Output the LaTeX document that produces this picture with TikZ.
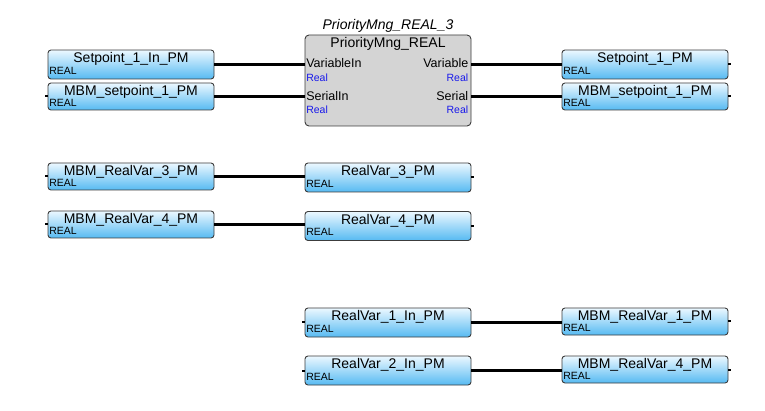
\documentclass[tikz,border=0pt]{standalone}
\usepackage{fontspec}
\setmainfont{Liberation Sans}
\usepackage{tikz}
\definecolor{varTop}{RGB}{236,248,255}
\definecolor{varBot}{RGB}{86,186,242}
\definecolor{fbFill}{RGB}{212,212,212}
\definecolor{edge}{RGB}{60,60,60}
\definecolor{typeBlue}{RGB}{25,25,235}

\begin{document}
\begin{tikzpicture}[x=1pt,y=-1pt,
    var/.style={draw=edge,line width=0.9pt,rounded corners=3pt,top color=varTop,bottom color=varBot,
      minimum width=166pt,minimum height=29pt,inner sep=0pt},
    mbm/.style={var,minimum height=27pt},
    fb/.style={draw=edge,line width=0.9pt,rounded corners=4pt,fill=fbFill,
      minimum width=166pt,minimum height=91pt,inner sep=0pt},
    vname/.style={anchor=base,inner sep=0pt,font=\fontsize{14}{16}\selectfont},
    vtype/.style={anchor=base west,inner sep=0pt,font=\fontsize{10.5}{12}\selectfont},
    pinl/.style={inner sep=0pt,font=\fontsize{12.5}{14}\selectfont},
    ptype/.style={inner sep=0pt,text=typeBlue,font=\fontsize{10.5}{12}\selectfont},
    wire/.style={line width=2.6pt}, stub/.style={line width=2pt}]
    \useasboundingbox (0,0) rectangle (765,411);

    % Function block
    \node[fb] (PM) at (388,80.5) {};
    \node[vname,font=\fontsize{14}{16}\selectfont\itshape] (PMi) at ([yshift=5pt]PM.north) {PriorityMng\_REAL\_3};
    \node[vname] (PMn) at ([yshift=-13pt]PM.north) {PriorityMng\_REAL};
    \node[pinl,anchor=base west] (PMa) at ([xshift=1.5pt,yshift=-33pt]PM.north west) {VariableIn};
    \node[ptype,anchor=base west] (PMb) at ([xshift=1.5pt,yshift=-46.5pt]PM.north west) {Real};
    \node[pinl,anchor=base west] (PMc) at ([xshift=1.5pt,yshift=-65.5pt]PM.north west) {SerialIn};
    \node[ptype,anchor=base west] (PMd) at ([xshift=1.5pt,yshift=-79pt]PM.north west) {Real};
    \node[pinl,anchor=base east] (PMe) at ([xshift=-3pt,yshift=-33pt]PM.north east) {Variable};
    \node[ptype,anchor=base east] (PMf) at ([xshift=-3pt,yshift=-46.5pt]PM.north east) {Real};
    \node[pinl,anchor=base east] (PMg) at ([xshift=-3pt,yshift=-65.5pt]PM.north east) {Serial};
    \node[ptype,anchor=base east] (PMh) at ([xshift=-3pt,yshift=-79pt]PM.north east) {Real};

    % Inputs of the block
    \node[var] (L1) at (131,64.5) {};
    \node[vname] (L1n) at ([yshift=-13pt]L1.north) {Setpoint\_1\_In\_PM};
    \node[vtype] (L1t) at ([xshift=1.5pt,yshift=5pt]L1.south west) {REAL};
    \node[mbm] (L2) at (131,96.5) {};
    \node[vname] (L2n) at ([yshift=-13pt]L2.north) {MBM\_setpoint\_1\_PM};
    \node[vtype] (L2t) at ([xshift=1.5pt,yshift=4pt]L2.south west) {REAL};

    % Outputs of the block
    \node[var] (R1) at (645,64.5) {};
    \node[vname] (R1n) at ([yshift=-13pt]R1.north) {Setpoint\_1\_PM};
    \node[vtype] (R1t) at ([xshift=1.5pt,yshift=5pt]R1.south west) {REAL};
    \node[mbm] (R2) at (645,96.5) {};
    \node[vname] (R2n) at ([yshift=-13pt]R2.north) {MBM\_setpoint\_1\_PM};
    \node[vtype] (R2t) at ([xshift=1.5pt,yshift=4pt]R2.south west) {REAL};

    \draw[wire] (L1.east) -- (L1.east -| PM.west);
    \draw[wire] (L2.east) -- (L2.east -| PM.west);
    \draw[wire] (PM.east |- R1.west) -- (R1.west);
    \draw[wire] (PM.east |- R2.west) -- (R2.west);
    \draw[stub] (L2.west) -- ++(-3,0);
    \draw[stub] (R1.east) -- ++(3,0);
    \draw[stub] (R2.east) -- ++(3,0);

    % Modbus to local
    \node[mbm] (L3) at (131,176.5) {};
    \node[vname] (L3n) at ([yshift=-13pt]L3.north) {MBM\_RealVar\_3\_PM};
    \node[vtype] (L3t) at ([xshift=1.5pt,yshift=4pt]L3.south west) {REAL};
    \node[var] (M3) at (388,177.5) {};
    \node[vname] (M3n) at ([yshift=-13pt]M3.north) {RealVar\_3\_PM};
    \node[vtype] (M3t) at ([xshift=1.5pt,yshift=5pt]M3.south west) {REAL};
    \node[mbm] (L4) at (131,224.5) {};
    \node[vname] (L4n) at ([yshift=-13pt]L4.north) {MBM\_RealVar\_4\_PM};
    \node[vtype] (L4t) at ([xshift=1.5pt,yshift=4pt]L4.south west) {REAL};
    \node[var] (M4) at (388,226) {};
    \node[vname] (M4n) at ([yshift=-13pt]M4.north) {RealVar\_4\_PM};
    \node[vtype] (M4t) at ([xshift=1.5pt,yshift=5pt]M4.south west) {REAL};

    \draw[wire] (L3.east) -- (L3.east -| M3.west);
    \draw[wire] (L4.east) -- (L4.east -| M4.west);
    \draw[stub] (L3.west) -- ++(-3,0);
    \draw[stub] (L4.west) -- ++(-3,0);
    \draw[stub] (M3.east) -- ++(3,0);
    \draw[stub] (M4.east) -- ++(3,0);

    % Local to Modbus
    \node[var] (M5) at (388,322.5) {};
    \node[vname] (M5n) at ([yshift=-13pt]M5.north) {RealVar\_1\_In\_PM};
    \node[vtype] (M5t) at ([xshift=1.5pt,yshift=5pt]M5.south west) {REAL};
    \node[mbm] (R5) at (645,321.5) {};
    \node[vname] (R5n) at ([yshift=-13pt]R5.north) {MBM\_RealVar\_1\_PM};
    \node[vtype] (R5t) at ([xshift=1.5pt,yshift=4pt]R5.south west) {REAL};
    \node[var] (M6) at (388,370.5) {};
    \node[vname] (M6n) at ([yshift=-13pt]M6.north) {RealVar\_2\_In\_PM};
    \node[vtype] (M6t) at ([xshift=1.5pt,yshift=5pt]M6.south west) {REAL};
    \node[mbm] (R6) at (645,369.5) {};
    \node[vname] (R6n) at ([yshift=-13pt]R6.north) {MBM\_RealVar\_4\_PM};
    \node[vtype] (R6t) at ([xshift=1.5pt,yshift=4pt]R6.south west) {REAL};

    \draw[wire] (M5.east) -- (M5.east -| R5.west);
    \draw[wire] (M6.east) -- (M6.east -| R6.west);
    \draw[stub] (M5.west) -- ++(-3,0);
    \draw[stub] (M6.west) -- ++(-3,0);
    \draw[stub] (R5.east) -- ++(3,0);
    \draw[stub] (R6.east) -- ++(3,0);
\end{tikzpicture}
\end{document}
